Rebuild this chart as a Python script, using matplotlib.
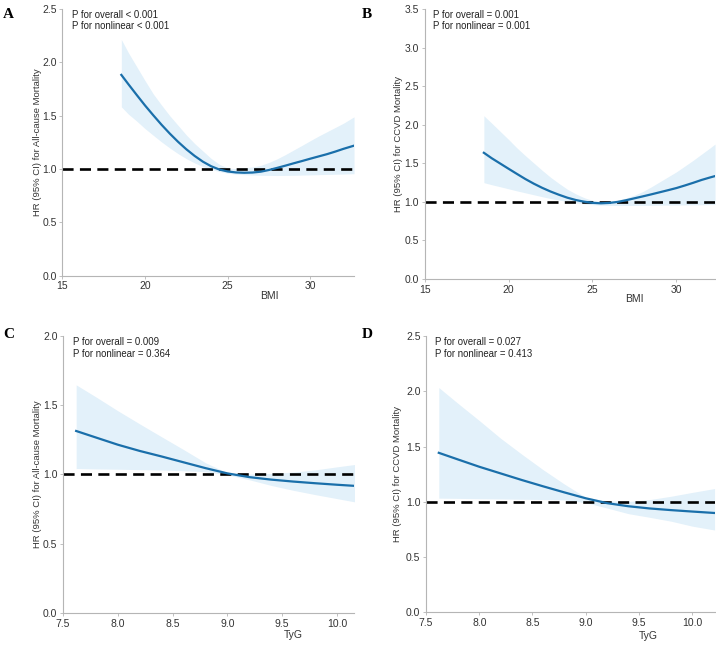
import matplotlib.pyplot as plt
import numpy as np

plt.rcParams['font.family'] = ['Liberation Sans', 'DejaVu Sans']

# ---- data ----
# A: BMI vs all-cause mortality
bmi_a = [18.57, 19.0, 19.5, 20.0, 20.5, 21.0, 21.5, 22.0, 22.5, 23.0, 23.5, 24.0, 24.5, 25.0, 25.5,
         26.0, 26.5, 27.0, 27.5, 28.0, 28.5, 29.0, 29.5, 30.0, 30.5, 31.0, 31.5, 32.0, 32.64]
hr_a = [1.883, 1.795, 1.695, 1.597, 1.505, 1.416, 1.333, 1.256, 1.186, 1.124, 1.07, 1.027, 0.996, 0.978, 0.969,
        0.966, 0.968, 0.976, 0.992, 1.012, 1.033, 1.055, 1.076, 1.098, 1.119, 1.14, 1.164, 1.19, 1.22]
hi_a = [2.215, 2.09, 1.96, 1.83, 1.705, 1.60, 1.50, 1.41, 1.32, 1.24, 1.17, 1.10, 1.045, 1.01, 1.005,
        1.012, 1.02, 1.035, 1.063, 1.097, 1.137, 1.18, 1.223, 1.267, 1.31, 1.35, 1.39, 1.43, 1.49]
lo_a = [1.584, 1.515, 1.45, 1.38, 1.317, 1.255, 1.198, 1.145, 1.098, 1.058, 1.024, 0.998, 0.977, 0.962, 0.953,
        0.948, 0.945, 0.942, 0.941, 0.94, 0.941, 0.942, 0.944, 0.946, 0.948, 0.95, 0.952, 0.954, 0.957]

# B: BMI vs CCVD mortality
bmi_b = [18.53, 19.0, 19.5, 20.0, 20.5, 21.0, 21.5, 22.0, 22.5, 23.0, 23.5, 24.0, 24.5, 25.0, 25.5,
         26.0, 26.5, 27.0, 27.5, 28.0, 28.5, 29.0, 29.5, 30.0, 30.5, 31.0, 31.5, 32.0, 32.3]
hr_b = [1.637, 1.566, 1.498, 1.43, 1.363, 1.297, 1.237, 1.183, 1.135, 1.093, 1.055, 1.025, 1.003, 0.988, 0.982,
        0.987, 1.0, 1.022, 1.047, 1.072, 1.098, 1.125, 1.152, 1.18, 1.213, 1.248, 1.285, 1.317, 1.335]
hi_b = [2.117, 2.02, 1.915, 1.81, 1.70, 1.60, 1.505, 1.41, 1.32, 1.24, 1.165, 1.105, 1.055, 1.02, 1.008,
        1.012, 1.025, 1.05, 1.088, 1.135, 1.195, 1.26, 1.325, 1.39, 1.465, 1.54, 1.62, 1.70, 1.75]
lo_b = [1.25, 1.223, 1.197, 1.17, 1.143, 1.118, 1.093, 1.068, 1.044, 1.024, 1.005, 0.989, 0.975, 0.965, 0.958,
        0.955, 0.954, 0.954, 0.954, 0.955, 0.956, 0.958, 0.959, 0.96, 0.961, 0.962, 0.963, 0.965, 0.966]

# C: TyG vs all-cause mortality
tyg_c = [7.62, 7.8, 8.0, 8.2, 8.4, 8.6, 8.8, 9.0, 9.2, 9.4, 9.6, 9.8, 10.0, 10.2]
hr_c = [1.314, 1.267, 1.215, 1.17, 1.13, 1.088, 1.046, 1.008, 0.981, 0.963, 0.949, 0.937, 0.926, 0.916]
hi_c = [1.647, 1.56, 1.46, 1.365, 1.272, 1.18, 1.085, 1.012, 1.003, 1.007, 1.017, 1.033, 1.055, 1.076]
lo_c = [1.043, 1.04, 1.038, 1.035, 1.032, 1.027, 1.02, 0.998, 0.962, 0.921, 0.886, 0.855, 0.826, 0.797]

# D: TyG vs CCVD mortality
tyg_d = [7.62, 7.8, 8.0, 8.2, 8.4, 8.6, 8.8, 9.0, 9.2, 9.4, 9.6, 9.8, 10.0, 10.21]
hr_d = [1.443, 1.383, 1.317, 1.257, 1.197, 1.14, 1.085, 1.032, 0.988, 0.96, 0.94, 0.925, 0.912, 0.899]
hi_d = [2.033, 1.89, 1.735, 1.575, 1.43, 1.29, 1.16, 1.04, 1.01, 1.003, 1.02, 1.05, 1.085, 1.12]
lo_d = [1.033, 1.031, 1.028, 1.026, 1.023, 1.021, 1.017, 0.992, 0.944, 0.893, 0.86, 0.825, 0.78, 0.745]

p_texts = ["P for overall < 0.001\nP for nonlinear < 0.001",
           "P for overall = 0.001\nP for nonlinear = 0.001",
           "P for overall = 0.009\nP for nonlinear = 0.364",
           "P for overall = 0.027\nP for nonlinear = 0.413"]
ylabels = ["HR (95% CI) for All-cause Mortality", "HR (95% CI) for CCVD Mortality",
           "HR (95% CI) for All-cause Mortality", "HR (95% CI) for CCVD Mortality"]
xlabels = ["BMI", "BMI", "TyG", "TyG"]
letters = ["A", "B", "C", "D"]

line_col = "#1a6faa"
band_col = "#e3f1fa"
spine_col = "#b5b5b5"

fig = plt.figure(figsize=(7.16, 6.46), dpi=100)

# panel boxes [left, bottom, width, height]
boxes = [[0.087, 0.573, 0.407, 0.413],
         [0.593, 0.568, 0.405, 0.418],
         [0.088, 0.051, 0.407, 0.429],
         [0.595, 0.052, 0.403, 0.428]]
panels = [(bmi_a, hr_a, lo_a, hi_a), (bmi_b, hr_b, lo_b, hi_b),
          (tyg_c, hr_c, lo_c, hi_c), (tyg_d, hr_d, lo_d, hi_d)]
xlims = [(15, 32.62), (15, 32.27), (7.5, 10.16), (7.5, 10.21)]
ymaxs = [2.5, 3.5, 2.0, 2.5]
xticks = [[15, 20, 25, 30], [15, 20, 25, 30],
          [7.5, 8.0, 8.5, 9.0, 9.5, 10.0], [7.5, 8.0, 8.5, 9.0, 9.5, 10.0]]
xlab_pos = [(0.709, -0.055), (0.724, -0.057), (0.79, -0.062), (0.769, -0.066)]
ylab_x = [-0.068, -0.076, -0.073, -0.083]
ptext_pos = [(0.034, 0.997), (0.029, 0.997), (0.034, 0.995), (0.031, 0.995)]
letter_pos = [(0.004, 0.978), (0.505, 0.978), (0.004, 0.482), (0.505, 0.482)]

for i in range(4):
    ax = fig.add_axes(boxes[i])
    x, hr, lo, hi = panels[i]
    ax.fill_between(x, lo, hi, color=band_col, lw=0, zorder=1)
    ax.plot(x, hr, color=line_col, lw=1.6, zorder=3, solid_joinstyle="round")
    ax.axhline(1.0, color="black", lw=1.9, dashes=(4.2, 2.4), zorder=2)

    ax.set_xlim(*xlims[i])
    ax.set_ylim(0, ymaxs[i])
    ax.set_xticks(xticks[i])
    ax.set_yticks(np.arange(0, ymaxs[i] + 0.01, 0.5))
    ax.yaxis.set_major_formatter(plt.FormatStrFormatter('%.1f'))
    if i >= 2:
        ax.xaxis.set_major_formatter(plt.FormatStrFormatter('%.1f'))

    for s in ["top", "right"]:
        ax.spines[s].set_visible(False)
    for s in ["left", "bottom"]:
        ax.spines[s].set_color(spine_col)
        ax.spines[s].set_linewidth(0.8)
    ax.tick_params(colors=spine_col, labelcolor="#333333", labelsize=7.5, length=2.5, width=0.6, pad=1.5)

    ax.set_xlabel(xlabels[i], fontsize=7.5, color="#333333")
    ax.xaxis.set_label_coords(*xlab_pos[i])
    ax.set_ylabel(ylabels[i], fontsize=6.8, color="#333333")
    ax.yaxis.set_label_coords(ylab_x[i], 0.5)

    ax.text(ptext_pos[i][0], ptext_pos[i][1], p_texts[i], transform=ax.transAxes,
            fontsize=6.9, color="#222222", va="top", ha="left", linespacing=1.2)
    fig.text(letter_pos[i][0], letter_pos[i][1], letters[i], fontsize=11, fontweight="bold",
             family=["Liberation Serif", "DejaVu Serif"], va="center", ha="left")

fig.savefig("out.png", dpi=100)
